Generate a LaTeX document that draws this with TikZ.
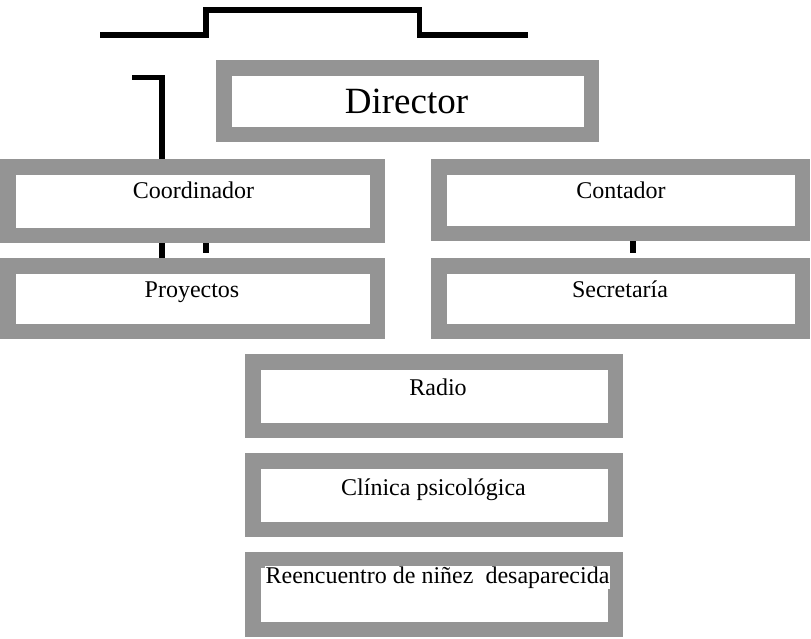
\documentclass[tikz,border=0pt]{standalone}
\usepackage{fontspec}
\setmainfont{Liberation Serif}
\definecolor{boxgray}{RGB}{148,148,148}
\begin{document}
\begin{tikzpicture}[x=1pt,y=-1pt,
  orgbox/.style={draw=boxgray, fill=white, line width=15.5pt, inner sep=0pt, outer sep=7.75pt, rectangle},
  lbl/.style={anchor=base, inner sep=0pt, font=\fontsize{24}{28}\selectfont},
  conn/.style={line width=5.5pt, black}]
\useasboundingbox (0,0) rectangle (811,638);
% boxes (outer width/height minus border)
\node[orgbox, minimum width=367.5pt, minimum height=66.5pt] (dir) at (407.5,101) {};
\node[orgbox, minimum width=369.5pt, minimum height=68.5pt] (coord) at (192.5,201) {};
\node[orgbox, minimum width=369.5pt, minimum height=65.5pt] (proy) at (192.5,298.5) {};
\node[orgbox, minimum width=363.5pt, minimum height=66.5pt] (cont) at (620.5,200) {};
\node[orgbox, minimum width=363.5pt, minimum height=65.5pt] (secr) at (620.5,298.5) {};
\node[orgbox, minimum width=362.5pt, minimum height=68.5pt] (radio) at (434,396) {};
\node[orgbox, minimum width=362.5pt, minimum height=68.5pt] (clin) at (434,495) {};
\node[orgbox, minimum width=362.5pt, minimum height=69.5pt] (reen) at (434,594.5) {};
% labels
\node[anchor=base, inner sep=0pt, font=\fontsize{37}{42}\selectfont] (tdir) at (406.5,113) {Director};
\node[lbl] (tcoord) at (193.5,198) {Coordinador};
\node[lbl] (tproy) at (192,297) {Proyectos};
\node[lbl] (tcont) at (621,198) {Contador};
\node[lbl] (tsecr) at (620,297) {Secretaría};
\node[lbl] (tradio) at (438,395) {Radio};
\node[lbl] (tclin) at (433.5,495) {Clínica psicológica};
\node[lbl, fill=white, inner sep=0.5pt] (treen) at (437.5,583) {Reencuentro de niñez\ \ desaparecida};
% free connector ends
\coordinate (t1) at (100,35);
\coordinate (t2) at (206,35);
\coordinate (t3) at (206,10);
\coordinate (t4) at (419.5,10);
\coordinate (t5) at (419.5,35);
\coordinate (t6) at (528,35);
\coordinate (b1) at (132,77.5);
\coordinate (b2) at (162,77.5);
\coordinate (k1) at (206,253);
\coordinate (k2) at (633,253);
% connectors
\draw[conn] (t1) -- (t2) -- (t3) -- (t4) -- (t5) -- (t6);
\draw[conn] (b1) -- (b2) -- (coord.north -| b2);
\draw[conn] (coord.south -| b2) -- (proy.north -| b2);
\draw[conn] (coord.south -| k1) -- (k1);
\draw[conn] (cont.south -| k2) -- (k2);
\end{tikzpicture}
\end{document}
